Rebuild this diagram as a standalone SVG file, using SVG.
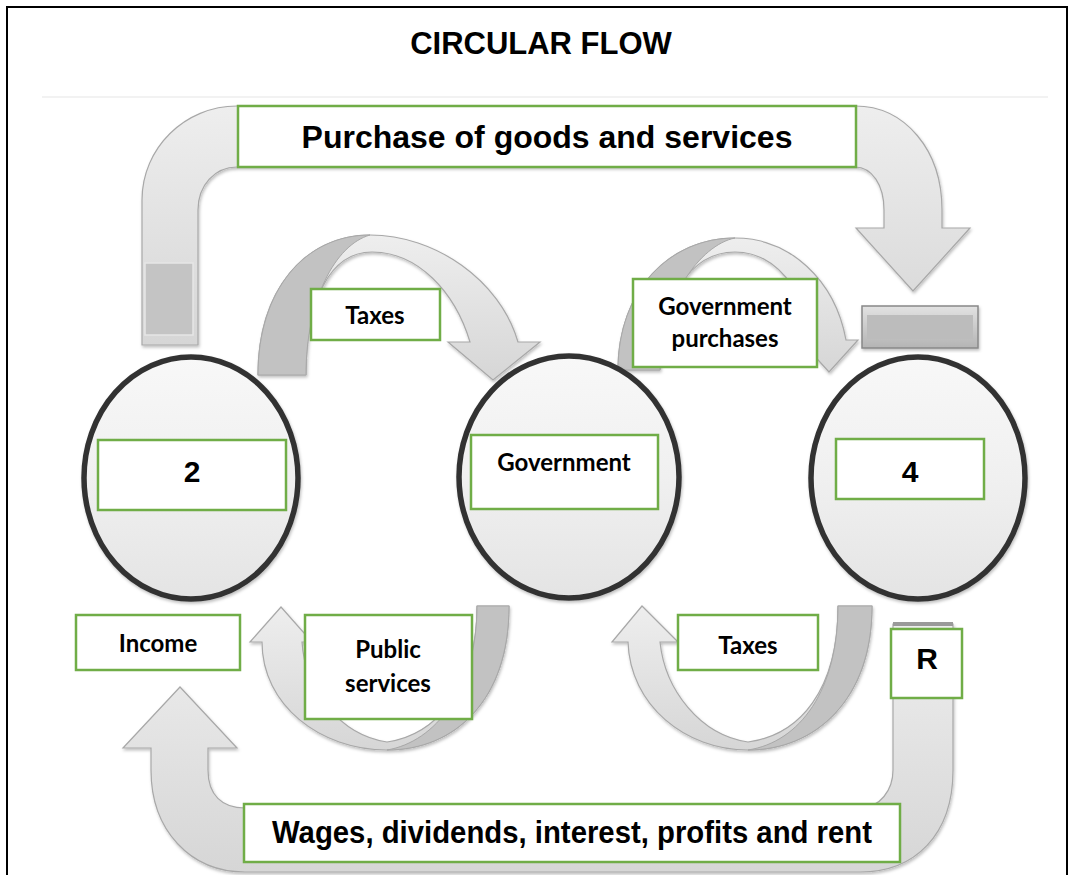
<svg xmlns="http://www.w3.org/2000/svg" width="1073" height="875" viewBox="0 0 1073 875">
<defs>
<linearGradient id="gArrow" x1="0" y1="0" x2="0" y2="1">
<stop offset="0" stop-color="#eeeeee"/><stop offset="1" stop-color="#d6d6d6"/>
</linearGradient>
<linearGradient id="gBall" x1="0" y1="0" x2="0" y2="1">
<stop offset="0" stop-color="#f8f8f8"/><stop offset="0.5" stop-color="#f0f0f0"/><stop offset="1" stop-color="#e4e4e4"/>
</linearGradient>
<linearGradient id="gBar" x1="0" y1="0" x2="0" y2="1">
<stop offset="0" stop-color="#e2e2e2"/><stop offset="1" stop-color="#b4b4b4"/>
</linearGradient>
<filter id="sh" x="-10%" y="-10%" width="120%" height="120%">
<feDropShadow dx="1" dy="2" stdDeviation="1.5" flood-color="#000" flood-opacity="0.25"/>
</filter>
</defs>
<style>
.frame{fill:none;stroke:#000;stroke-width:2}
.arr{fill:url(#gArrow);stroke:#a8a8a8;stroke-width:1.2;filter:url(#sh)}
.dark{fill:#c2c2c2;stroke:#a8a8a8;stroke-width:1}
.ball{fill:url(#gBall);stroke:#333;stroke-width:5.5;filter:url(#sh)}
.box{fill:#fff;stroke:#70ad47;stroke-width:2.5}
.ta{font-family:"Liberation Sans",Arial,sans-serif;font-weight:bold;fill:#000;text-anchor:middle}
.tc{font-family:Lato,"Open Sans",sans-serif;font-weight:bold;fill:#000;text-anchor:middle;font-size:24px}
</style>
<rect class="frame" x="7" y="7" width="1060" height="880"/>
<line x1="42" y1="97" x2="1048" y2="97" stroke="#eeeeee" stroke-width="1.5"/>
<text class="ta" x="541" y="54" font-size="31">CIRCULAR FLOW</text>

<g id="connectors">
<g id="purchase-arrow">
<path class="arr" d="M142,345 L142,200 C142,148 185,106 237,106 L855,106 C905,106 942,150 942,210 L942,228 L970,228 L913,291 L856,228 L884,228 L884,210 C884,185 872,167 855,167 L237,167 C215,167 198,185 198,210 L198,345 Z"/>
<rect x="145" y="263" width="48" height="72" fill="#c4c4c4" stroke="#e6e6e6" stroke-width="1.5"/>
</g>
<g id="bar-right">
<rect x="862" y="306" width="116" height="42" fill="url(#gBar)" stroke="#888" stroke-width="1.5" filter="url(#sh)"/>
<rect x="867" y="315" width="106" height="24" fill="#bcbcbc"/>
</g>
<g id="taxes-up-arrow">
<path class="arr" d="M258,375 C258,290 305,235 370,235 C435,235 500,280 518,342 L540,342 L493,380 L448,342 L470,342 C455,292 418,252 372,252 C330,252 306,300 306,375 Z"/>
<path class="dark" d="M258,375 C258,290 305,235 370,235 C335,245 306,300 306,375 Z"/>
</g>
<g id="govpurch-arrow">
<path class="arr" d="M618,370 C618,290 670,238 735,238 C790,238 835,280 846,340 L858,340 L829,372 L800,340 L812,340 C805,290 775,252 735,252 C690,252 660,300 660,370 Z"/>
<path class="dark" d="M618,370 C618,290 670,238 735,238 C700,245 660,300 660,370 Z"/>
</g>
<g id="public-arrow">
<path class="arr" d="M509,606 C509,700 455,750 387,750 C320,750 262,705 262,642 L250,642 L281,607 L312,642 L302,642 C305,690 340,735 387,742 C435,735 477,690 477,606 Z"/>
<path class="dark" d="M509,606 C509,700 455,750 387,750 C435,742 477,690 477,606 Z"/>
</g>
<g id="taxes-down-arrow">
<path class="arr" d="M872,606 C872,700 815,750 748,750 C685,750 630,705 628,642 L612,642 L642,606 L678,642 L660,642 C665,690 700,735 748,742 C800,735 838,690 838,606 Z"/>
<path class="dark" d="M872,606 C872,700 815,750 748,750 C800,742 838,690 838,606 Z"/>
</g>
<g id="wages-arrow">
<path class="arr" d="M893,624 L953,624 L953,770 C953,835 915,872 860,872 L245,872 C190,872 151,830 151,770 L151,748 L123,748 L180,687 L237,748 L208,748 L208,770 C208,795 222,808 245,808 L860,808 C880,808 893,790 893,770 Z"/>
<rect x="893" y="622" width="60" height="4" fill="#9a9a9a"/>
</g>
</g>

<g id="node-2">
<ellipse class="ball" cx="191" cy="478" rx="107" ry="121"/>
<rect class="box" x="98" y="440" width="188" height="70"/>
<text class="ta" x="192" y="482" font-size="30">2</text>
</g>
<g id="node-government">
<ellipse class="ball" cx="569" cy="477" rx="110" ry="121"/>
<rect class="box" x="471" y="435" width="187" height="74"/>
<text class="tc" x="564" y="471">Government</text>
</g>
<g id="node-4">
<ellipse class="ball" cx="918" cy="478" rx="107" ry="121"/>
<rect class="box" x="836" y="439" width="148" height="60"/>
<text class="ta" x="910" y="482" font-size="30">4</text>
</g>

<g id="label-purchase">
<rect class="box" x="238" y="106" width="618" height="61"/>
<text class="ta" x="547" y="148" font-size="32">Purchase of goods and services</text>
</g>
<g id="label-taxes-up">
<rect class="box" x="311" y="289" width="129" height="51"/>
<text class="tc" x="375" y="324" font-size="27">Taxes</text>
</g>
<g id="label-govpurch">
<rect class="box" x="633" y="279" width="184" height="88"/>
<text class="tc" x="725" y="315">Government</text>
<text class="tc" x="725" y="347">purchases</text>
</g>
<g id="label-income">
<rect class="box" x="76" y="615" width="164" height="55"/>
<text class="tc" x="158" y="652">Income</text>
</g>
<g id="label-public">
<rect class="box" x="305" y="615" width="167" height="104"/>
<text class="tc" x="388" y="658">Public</text>
<text class="tc" x="388" y="692">services</text>
</g>
<g id="label-taxes-down">
<rect class="box" x="678" y="615" width="140" height="55"/>
<text class="tc" x="748" y="654" font-size="27">Taxes</text>
</g>
<g id="label-r">
<rect class="box" x="891" y="629" width="71" height="69"/>
<text class="ta" x="927" y="669" font-size="30">R</text>
</g>
<g id="label-wages">
<rect class="box" x="244" y="804" width="656" height="58"/>
<text class="ta" x="572" y="843" font-size="32" textLength="600" lengthAdjust="spacingAndGlyphs">Wages, dividends, interest, profits and rent</text>
</g>
</svg>
